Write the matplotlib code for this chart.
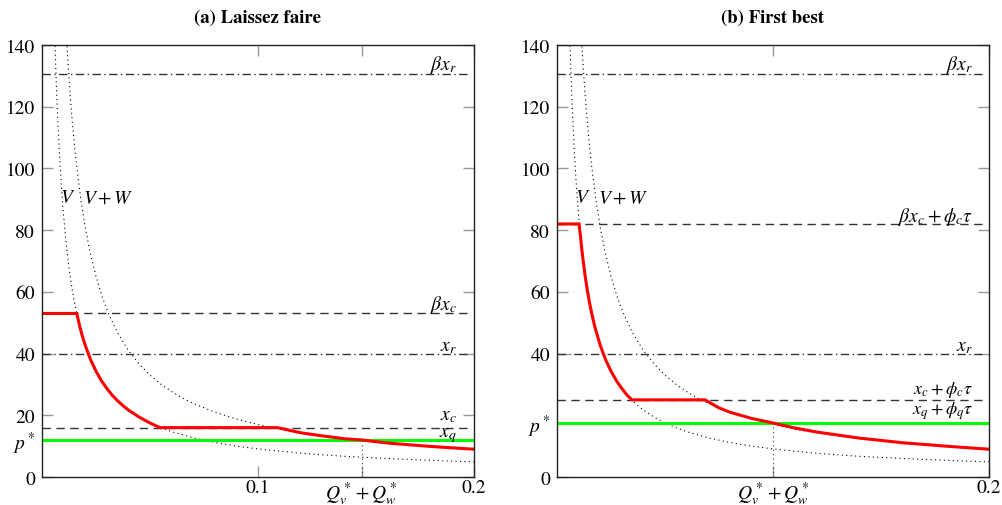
import matplotlib.pyplot as plt

plt.rcParams['font.family'] = ['STIXGeneral', 'DejaVu Serif']
plt.rcParams['mathtext.fontset'] = 'stix'

# demand curves (same in both panels)
q_v = [0.0058, 0.0065, 0.0070, 0.0080, 0.0090, 0.0100, 0.0108, 0.0115, 0.0122, 0.0130,
       0.0140, 0.0150, 0.0160, 0.0175, 0.0185, 0.0200, 0.0225, 0.0250, 0.0275, 0.0300,
       0.0325, 0.0350, 0.0375, 0.0400, 0.0450, 0.0500, 0.0550, 0.0600, 0.0700, 0.0800,
       0.0900, 0.1000, 0.1200, 0.1400, 0.1600, 0.1800, 0.2000]
v_price = [145.5, 129.9, 120.7, 105.7, 94.0, 84.7, 78.5, 73.7, 69.6, 65.3,
           60.7, 56.7, 53.2, 48.7, 46.1, 42.7, 38.0, 34.3, 31.2, 28.7,
           26.5, 24.7, 23.1, 21.7, 19.4, 17.5, 16.0, 14.7, 12.7, 11.2,
           10.0, 9.1, 7.7, 6.7, 6.0, 5.4, 4.9]
q_vw = [0.0112, 0.0120, 0.0130, 0.0140, 0.0150, 0.0160, 0.0180, 0.0200, 0.0220, 0.0250,
        0.0280, 0.0310, 0.0350, 0.0400, 0.0450, 0.0500, 0.0550, 0.0600, 0.0650, 0.0700,
        0.0800, 0.0900, 0.1000, 0.1100, 0.1200, 0.1300, 0.1400, 0.1500, 0.1600, 0.1800,
        0.2000]
vw_price = [143.9, 134.3, 124.1, 115.3, 107.7, 101.0, 89.9, 81.0, 73.7, 65.0,
            58.1, 52.6, 46.7, 41.0, 36.6, 33.0, 30.1, 27.7, 25.6, 23.9,
            21.0, 18.8, 17.0, 15.5, 14.3, 13.3, 12.4, 11.7, 11.0, 9.9,
            9.0]

# (a) laissez faire
a_red_q = [0.0, 0.0161, 0.0175, 0.0185, 0.0200, 0.0225, 0.0250, 0.0275, 0.0300, 0.0325,
           0.0350, 0.0375, 0.0400, 0.0450, 0.0500, 0.0546, 0.1090, 0.1200, 0.1300, 0.1400,
           0.1480, 0.1600, 0.1800, 0.2000]
a_red_p = [53.0, 53.0, 48.7, 46.1, 42.7, 38.0, 34.3, 31.2, 28.7, 26.5,
           24.7, 23.1, 21.7, 19.4, 17.5, 16.0, 16.0, 14.3, 13.3, 12.4,
           12.0, 11.0, 9.9, 9.0]
a_beta_xr = 130.6
a_beta_xc = 53.0
a_xr = 40.0
a_xc = 16.0
a_pstar = 12.0
a_qstar = 0.148

# (b) first best
b_red_q = [0.0, 0.0102, 0.0108, 0.0115, 0.0122, 0.0130, 0.0140, 0.0150, 0.0160, 0.0175,
           0.0200, 0.0225, 0.0250, 0.0275, 0.0300, 0.0325, 0.0347, 0.0685, 0.0750, 0.0800,
           0.0900, 0.1000, 0.1100, 0.1200, 0.1400, 0.1600, 0.1800, 0.2000]
b_red_p = [82.0, 82.0, 78.5, 73.7, 69.6, 65.3, 60.7, 56.7, 53.2, 48.7,
           42.7, 38.0, 34.3, 31.2, 28.7, 26.5, 25.0, 25.0, 22.4, 21.0,
           19.0, 17.5, 15.9, 14.6, 12.6, 11.1, 10.0, 9.0]
b_beta_xr = 130.6
b_beta_xc_tau = 82.0
b_xr = 40.0
b_xc_tau = 25.0
b_pstar = 17.5
b_qstar = 0.1

DASH = (0, (6, 4))
DASHDOT = (0, (6, 2.5, 1, 2.5))
DOTS = (0, (1, 3))


def draw_panel(ax, title, red_q, red_p, pstar, qstar, hlines, labels, label_x,
               yticks, yticklabels, xticks, xticklabels):
    ax.plot(q_v, v_price, color='black', lw=0.8, linestyle=DOTS)
    ax.plot(q_vw, vw_price, color='black', lw=0.8, linestyle=DOTS)
    ax.plot([qstar, qstar], [0, pstar], color='#444444', lw=0.8, linestyle=DOTS)

    for val, style in hlines:
        ax.axhline(val, xmin=0.0, xmax=0.985, color='#333333', lw=1.0, linestyle=style)
    # labels sit on their baseline just above each line
    for label, ly, fs in labels:
        ax.text(label_x, ly, label, fontsize=fs, ha='right', va='baseline')

    ax.axhline(pstar, color='#00ff00', lw=2.2)
    ax.plot(red_q, red_p, color='#ff0000', lw=2.2, solid_joinstyle='miter')

    ax.text(0.012, 90.5, '$V$', fontsize=14, ha='center', va='center')
    ax.text(0.0188, 90.5, '$V+W$', fontsize=14, ha='left', va='center')

    ax.set_xlim(0, 0.2)
    ax.set_ylim(0, 140)
    ax.set_yticks(yticks)
    ax.set_yticklabels(yticklabels)
    ax.set_xticks(xticks)
    ax.set_xticklabels(xticklabels)
    ax.tick_params(direction='in', length=8, width=1.0, color='#999999',
                   top=True, right=True, labelsize=14)
    ax.tick_params(axis='x', pad=1.5)
    ax.tick_params(axis='y', pad=5)
    for sp in ax.spines.values():
        sp.set_color('#222222')
        sp.set_linewidth(1.0)
    ax.set_title(title, fontsize=13.5, fontweight='bold', pad=17)


fig = plt.figure(figsize=(10.03, 5.06), dpi=100)
ax1 = fig.add_axes([42 / 1003, 28 / 506, 432 / 1003, 432 / 506])
ax2 = fig.add_axes([557 / 1003, 28 / 506, 432 / 1003, 432 / 506])

draw_panel(ax1, '(a) Laissez faire', a_red_q, a_red_p, a_pstar, a_qstar,
           [(a_beta_xr, DASHDOT), (a_beta_xc, DASH), (a_xr, DASHDOT), (a_xc, DASH)],
           [(r'$\beta x_r$', 132.3, 14),
            (r'$\beta x_c$', 54.4, 14),
            (r'$x_r$', 41.0, 14),
            (r'$x_c$', 18.6, 14),
            (r'$x_q$', 13.2, 14)], 0.192,
           [0, a_pstar, 20, 40, 60, 80, 100, 120, 140],
           ['0', '$p^*$', '20', '40', '60', '80', '100', '120', '140'],
           [0.1, a_qstar, 0.2], ['0.1', '$Q_v^*+Q_w^*$', '0.2'])

draw_panel(ax2, '(b) First best', b_red_q, b_red_p, b_pstar, b_qstar,
           [(b_beta_xr, DASHDOT), (b_beta_xc_tau, DASH), (b_xr, DASHDOT), (b_xc_tau, DASH)],
           [(r'$\beta x_r$', 132.3, 14),
            (r'$\beta x_c+\phi_c\tau$', 82.9, 14),
            (r'$x_r$', 41.0, 14),
            (r'$x_c+\phi_c\tau$', 27.2, 13),
            (r'$x_q+\phi_q\tau$', 20.7, 13)], 0.1925,
           [0, b_pstar, 40, 60, 80, 100, 120, 140],
           ['0', '$p^*$', '40', '60', '80', '100', '120', '140'],
           [b_qstar, 0.2], ['$Q_v^*+Q_w^*$', '0.2'])

fig.savefig('out.png', dpi=100)
